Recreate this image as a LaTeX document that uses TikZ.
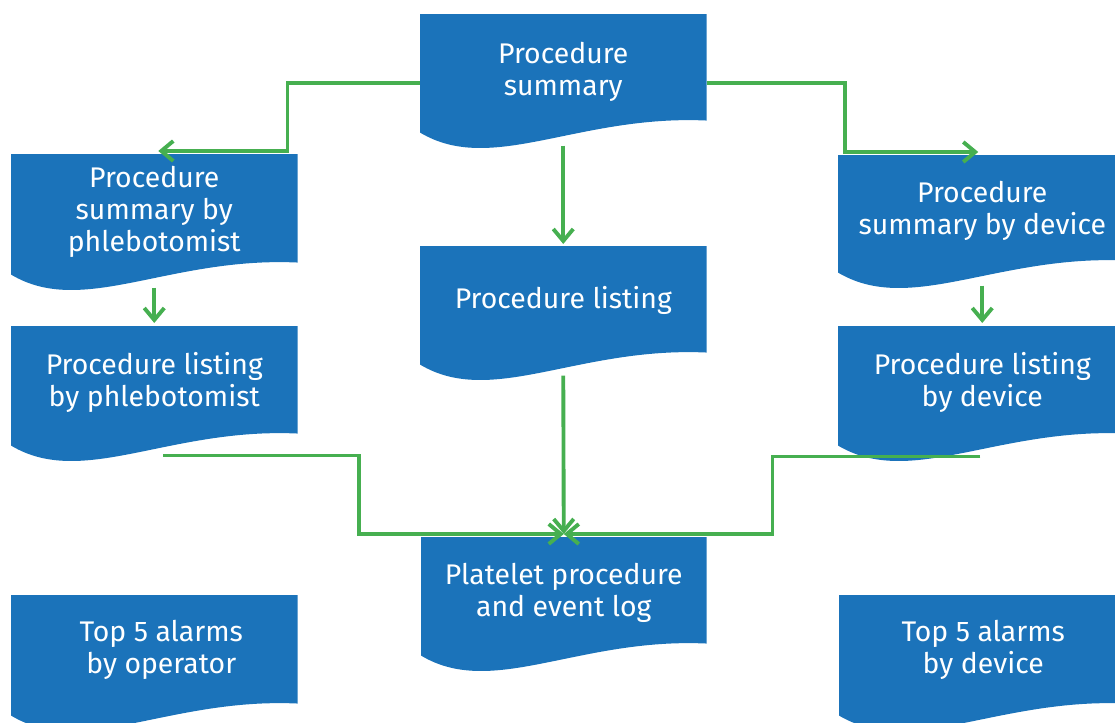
\documentclass[tikz,border=0pt]{standalone}
\usepackage{fontspec}
\setmainfont{Fira Sans}
\usetikzlibrary{arrows.meta,calc,backgrounds}
\definecolor{docblue}{RGB}{27,115,186}
\definecolor{lngreen}{RGB}{70,175,80}
\tikzset{
  doc/.style={rectangle, inner sep=0pt, anchor=north west, text=white,
    font=\fontsize{21.3}{24}\selectfont},
  conn/.style={draw=lngreen, line width=2.9pt, line join=miter,
    -{Straight Barb[length=9pt,width=15pt]}},
}
\newcommand\dt[2][2.3pt]{\raisebox{-#1}[\height][\depth]{\begin{tabular}{@{}c@{}}#2\end{tabular}}}
\newcommand\docfill[1]{\fill[docblue] (#1.north west) -- (#1.north east) -- (#1.south east)
  .. controls ($(#1.south west)!0.55!(#1.south east)+(0,-6)$) and ($(#1.south west)!0.25!(#1.south east)+(0,55)$)
  .. ($(#1.south west)+(0,12)$) -- cycle;}
\begin{document}
\begin{tikzpicture}[x=0.75pt,y=-0.75pt]
\useasboundingbox (0,0) rectangle (1115,722);
\clip (0,0) rectangle (1115,722);
% nodes
\node[doc, minimum width=286*0.75pt, minimum height=106*0.75pt] (ps) at (420,14) {\dt[4pt]{Procedure\\summary}};
\node[doc, minimum width=286*0.75pt, minimum height=108*0.75pt] (psp) at (11,154) {\dt[3.5pt]{Procedure\\summary by\\phlebotomist}};
\node[doc, minimum width=288*0.75pt, minimum height=105*0.75pt] (psd) at (838,155) {\dt[3.5pt]{Procedure\\summary by device}};
\node[doc, minimum width=286*0.75pt, minimum height=106*0.75pt] (pl) at (420,246) {\dt[2pt]{Procedure listing}};
\node[doc, minimum width=286*0.75pt, minimum height=107*0.75pt] (plp) at (11,326) {\dt[3.5pt]{Procedure listing\\by phlebotomist}};
\node[doc, minimum width=288*0.75pt, minimum height=107*0.75pt] (pld) at (838,326) {\dt[3.5pt]{Procedure listing\\by device}};
\node[doc, minimum width=285*0.75pt, minimum height=106*0.75pt] (plog) at (421,537) {\dt[2.5pt]{Platelet procedure\\and event log}};
\node[doc, minimum width=300*0.75pt, minimum height=108*0.75pt] (top5op) at (11,595) {\dt[1.2pt]{Top 5 alarms\\by operator}};
\node[doc, minimum width=288*0.75pt, minimum height=108*0.75pt] (top5dev) at (839,595) {\dt[1.2pt]{Top 5 alarms\\by device}};
\begin{scope}[on background layer]
  \docfill{ps}\docfill{psp}\docfill{psd}\docfill{pl}\docfill{plp}\docfill{pld}\docfill{plog}
  \fill[docblue] (top5op.north west) -- ($(top5op.north east)+(-14,0)$) -- ($(top5op.south east)+(-14,0)$)
    .. controls ($(top5op.south west)!0.55!(top5op.south east)+(-8,-6)$) and ($(top5op.south west)!0.25!(top5op.south east)+(-4,55)$)
    .. ($(top5op.south west)+(0,12)$) -- cycle;
  \docfill{top5dev}
\end{scope}
% connectors
\draw[conn] ($(ps.west)+(0,16)$) -| ($(psp.north east)+(-10,-3)$) -- ($(psp.north)+(4,-3)$);
\draw[conn] ($(ps.east)+(0,16)$) -| ($(psd.north west)+(7,-3)$) -- ($(psd.north)+(-4,-3)$);
\draw[conn] ($(ps.south)+(0,25)$) -- ($(pl.north)+(0,-2)$);
\draw[conn] ($(psp.south)+(0,25)$) -- ($(plp.north)+(0,-3)$);
\draw[conn] ($(psd.south)+(0,25)$) -- ($(pld.north)+(0,-3)$);
\draw[conn] ($(pl.south)+(0,23)$) -- ($(plog.north)+(0,-3)$);
\draw[conn] ($(plp.south)+(9,22)$) -| ($(plog.north west)+(-62,-3)$) -- ($(plog.north)+(0,-3)$);
\draw[conn] ($(pld.south)+(-2,23)$) -| ($(plog.north east)+(66,-3)$) -- ($(plog.north)+(0,-3)$);
\end{tikzpicture}
\end{document}
